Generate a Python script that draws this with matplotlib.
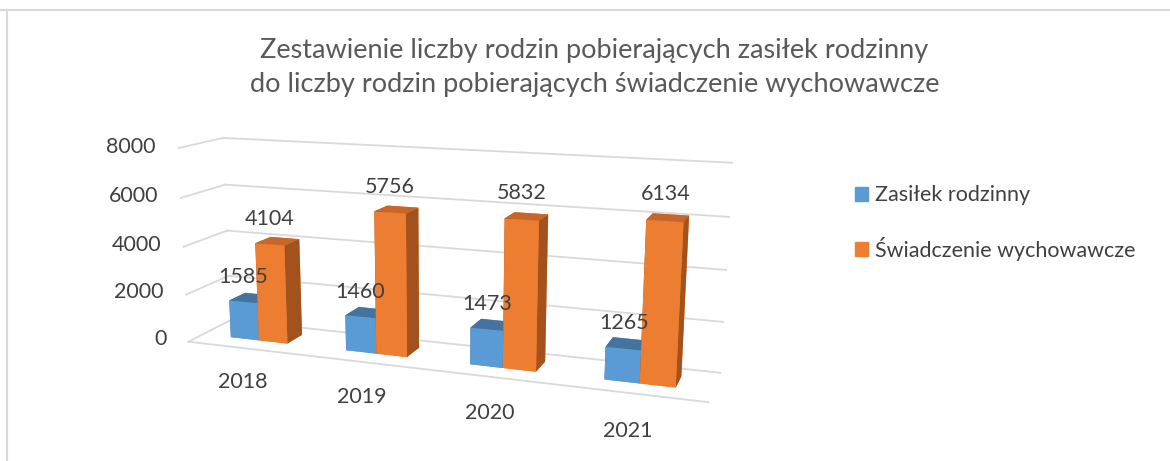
import matplotlib.pyplot as plt
from matplotlib.patches import Patch
from matplotlib.lines import Line2D
import numpy as np

plt.rcParams['font.family'] = ['Lato', 'DejaVu Sans']

# Data
years = ["2018", "2019", "2020", "2021"]
zasilek = [1585, 1460, 1473, 1265]
swiadczenie = [4104, 5756, 5832, 6134]
series_names = ["Zasiłek rodzinny", "Świadczenie wychowawcze"]
z_ticks = [0, 2000, 4000, 6000, 8000]
title = ("Zestawienie liczby rodzin pobierających zasiłek rodzinny\n"
         "do liczby rodzin pobierających świadczenie wychowawcze")

# colours: front, top, side for each series
blue_faces = {"front": "#5B9BD5", "top": "#44739F", "side": "#3F6C96"}
orange_faces = {"front": "#ED7D31", "top": "#C6662A", "side": "#A3521D"}
grid_col = "#D9D9D9"
text_col = "#404040"

W, H = 1170, 461
fig = plt.figure(figsize=(W / 100, H / 100), dpi=100)

# chart frame (only top and left edges visible in the crop)
fig.add_artist(Line2D([0, 1], [0.979, 0.979], color="#D9D9D9", lw=1.5))
fig.add_artist(Line2D([0.006, 0.006], [0, 0.979], color="#D9D9D9", lw=1.5))

fig.text(0.508, 0.853, title, ha="center", va="center", fontsize=19.5,
         color="#595959", linespacing=1.45)

# 3D axes are always squared, so give them a big square region
S = 900
cx, cy = 431, 270  # centre in pixels (from top-left)
ax = fig.add_axes([(cx - S / 2) / W, (H - cy - S / 2) / H, S / W, S / H],
                  projection="3d", computed_zorder=False)
ax.set_proj_type("persp", focal_length=0.24)
ax.view_init(elev=13, azim=-70)

x0, x1 = -0.5, 3.5
y0, y1 = 0.0, 0.65
ax.set_xlim(x0, x1)
ax.set_ylim(y0, y1)
ax.set_zlim(0, 8000)
ax.set_box_aspect((4, 0.65, 1.52), zoom=0.635)
ax.set_axis_off()

# gridlines on back wall and left side wall
for t in z_ticks:
    ax.plot([x0, x1], [y1, y1], [t, t], color=grid_col, lw=1.3, zorder=1)
    ax.plot([x0, x0], [y0, y1], [t, t], color=grid_col, lw=1.3, zorder=1)
    ax.text(x0 - 0.2, y0, t, str(t), ha="right", va="center",
            fontsize=15.5, color=text_col, zorder=5)
# front edge of the floor
ax.plot([x0, x1], [y0, y0], [0, 0], color=grid_col, lw=1.3, zorder=1)

bw = 0.25
bd = 0.25
yb = 0.22
n = len(years)
xs = np.arange(n)

bx = np.concatenate([xs - bw, xs])
by = np.full(2 * n, yb)
bz = np.zeros(2 * n)
dz = np.array(zasilek + swiadczenie, dtype=float)

face_cols = []
for faces in [blue_faces] * n + [orange_faces] * n:
    # order: bottom, top, front, back, left, right
    face_cols += [faces["front"], faces["top"], faces["front"],
                  faces["front"], faces["side"], faces["side"]]

ax.bar3d(bx, by, bz, bw, bd, dz, color=face_cols, shade=False, zorder=2)

# value labels
for i in range(n):
    ax.text(xs[i] - bw / 2, yb, zasilek[i] + 620, str(zasilek[i]),
            ha="center", va="bottom", fontsize=15.5, color=text_col, zorder=5)
    ax.text(xs[i] + bw / 2, yb, swiadczenie[i] + 620, str(swiadczenie[i]),
            ha="center", va="bottom", fontsize=15.5, color=text_col, zorder=5)
    ax.text(xs[i] - 0.03, y0, -1450, years[i], ha="center", va="center",
            fontsize=15.5, color=text_col, zorder=5)

handles = [Patch(color=blue_faces["front"]), Patch(color=orange_faces["front"])]
fig.legend(handles, series_names, loc="upper left", bbox_to_anchor=(0.714, 0.64),
           frameon=False, fontsize=15.5, handlelength=0.62, handleheight=0.62,
           handletextpad=0.3, labelspacing=1.45, labelcolor=text_col)

fig.savefig("out.png", dpi=100)
